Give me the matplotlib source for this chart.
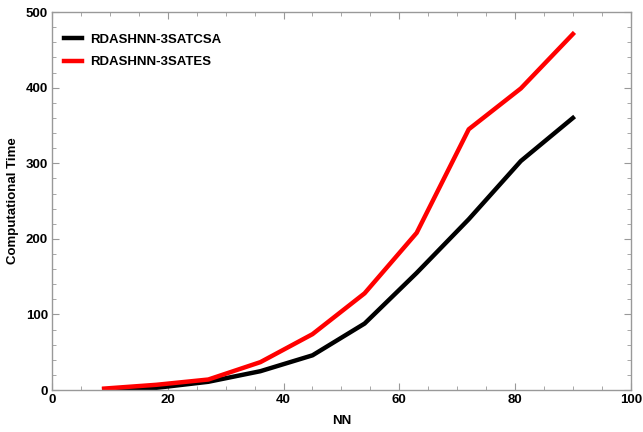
import numpy as np
import matplotlib
matplotlib.use("Agg")
import matplotlib.pyplot as plt
from matplotlib.ticker import MultipleLocator

plt.rcParams['font.family'] = ['Liberation Sans', 'DejaVu Sans']

# data
nn = [9, 18, 27, 36, 45, 54, 63, 72, 81, 90]
time_csa = [1, 3, 11, 25, 46, 88, 155, 226, 303, 360]
time_es = [2, 7, 14, 37, 74, 128, 208, 345, 399, 471]
labels = ['RDASHNN-3SATCSA', 'RDASHNN-3SATES']

fig = plt.figure(figsize=(6.43, 4.32), dpi=100)
ax = fig.add_axes([0.081, 0.097, 0.9, 0.875])

ax.plot(nn, time_csa, color='black', lw=3.2, label=labels[0])
ax.plot(nn, time_es, color='#ff0000', lw=3.2, label=labels[1])

ax.set_xlim(0, 100)
ax.set_ylim(0, 500)
ax.xaxis.set_major_locator(MultipleLocator(20))
ax.xaxis.set_minor_locator(MultipleLocator(5))
ax.yaxis.set_major_locator(MultipleLocator(100))
ax.yaxis.set_minor_locator(MultipleLocator(20))

for s in ax.spines.values():
    s.set_color('#999999')
    s.set_linewidth(1)
ax.tick_params(which='both', direction='in', top=True, right=True, color='#999999')
ax.tick_params(which='major', length=5, labelsize=9.5, pad=3)
ax.tick_params(which='minor', length=3)
for t in ax.get_xticklabels() + ax.get_yticklabels():
    t.set_fontweight('bold')

ax.set_xlabel('NN', fontsize=9.5, fontweight='bold', labelpad=6)
ax.set_ylabel('Computational Time', fontsize=9.5, fontweight='bold', labelpad=5)

leg = ax.legend(loc='upper left', frameon=False, handlelength=1.4, fontsize=9.5,
                bbox_to_anchor=(0.0, 0.975), labelspacing=0.8, handletextpad=0.6)
for t in leg.get_texts():
    t.set_fontweight('bold')

fig.savefig('out.png', dpi=100)
